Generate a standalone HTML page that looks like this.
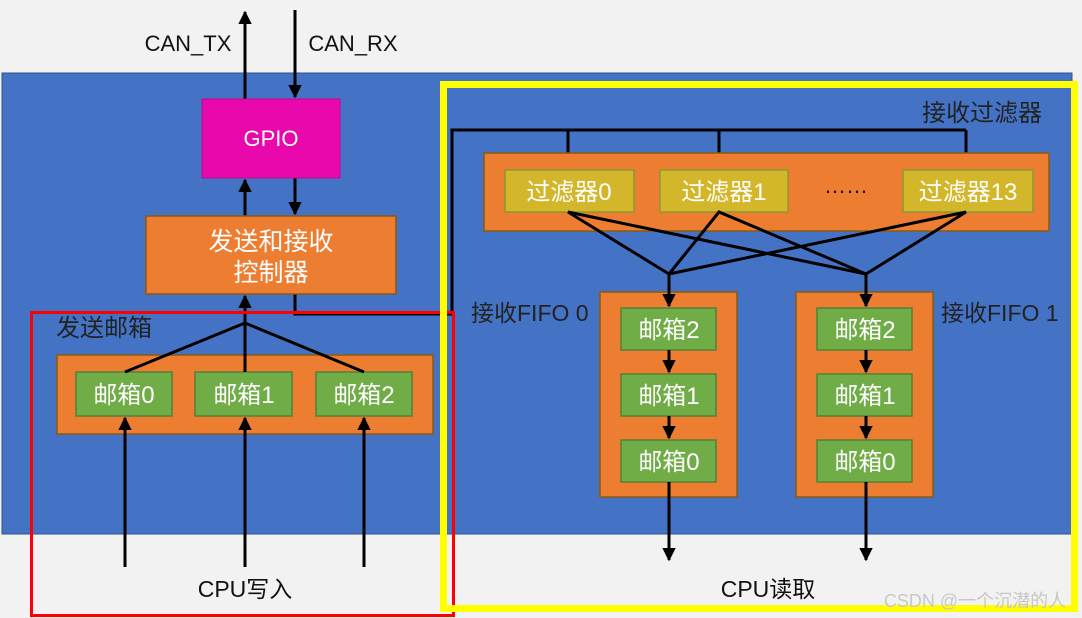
<!DOCTYPE html>
<html><head><meta charset="utf-8"><style>
html,body{margin:0;padding:0;background:#f2f2f2;}
svg{display:block;font-family:"Liberation Sans","Noto Sans CJK SC",sans-serif;}
</style></head><body>
<svg width="1082" height="618" viewBox="0 0 1082 618" xmlns="http://www.w3.org/2000/svg">
<defs>
<marker id="a" viewBox="0 0 10 10" refX="9" refY="5" markerWidth="4.5" markerHeight="4.5" orient="auto"><path d="M0,0 L10,5 L0,10 z" fill="#000"/></marker>
</defs>
<rect x="0" y="0" width="1082" height="618" fill="#f2f2f2"/>
<rect x="2" y="73" width="1070" height="461" fill="#4472c4" stroke="#2f528f" stroke-width="1"/>

<g stroke="#000" stroke-width="3" fill="none">
<line x1="245" y1="99" x2="245" y2="12" marker-end="url(#a)"/>
<line x1="295" y1="10" x2="295" y2="97" marker-end="url(#a)"/>
<line x1="245" y1="216" x2="245" y2="180" marker-end="url(#a)"/>
<line x1="295" y1="178" x2="295" y2="214" marker-end="url(#a)"/>
<line x1="245" y1="323" x2="245" y2="296" marker-end="url(#a)"/>
<polyline points="295,294 295,314 452,314 452,130 966,130"/>
<line x1="568" y1="130" x2="568" y2="168" marker-end="url(#a)"/>
<line x1="719" y1="130" x2="719" y2="168" marker-end="url(#a)"/>
<line x1="966" y1="130" x2="966" y2="168" marker-end="url(#a)"/>
</g>

<text x="188" y="51" font-size="22" text-anchor="middle" fill="#111">CAN_TX</text>
<text x="353" y="51" font-size="22" text-anchor="middle" fill="#111">CAN_RX</text>

<rect x="202" y="99" width="138" height="79" fill="#e908ab" stroke="#c0088f"/>
<text x="271" y="146" font-size="22" text-anchor="middle" fill="#fff">GPIO</text>

<rect x="146" y="216" width="250" height="78" fill="#ed7d31" stroke="#8a5a10" stroke-width="1.5"/>
<text x="271" y="250" font-size="25" text-anchor="middle" fill="#fff">发送和接收</text>
<text x="271" y="281" font-size="25" text-anchor="middle" fill="#fff">控制器</text>

<text x="56" y="336" font-size="24" fill="#222">发送邮箱</text>
<rect x="57" y="355" width="376" height="79" fill="#ed7d31" stroke="#8a5a10" stroke-width="1.5"/>
<g fill="#70ad47" stroke="#548235" stroke-width="1.5">
<rect x="76" y="372" width="96" height="44"/>
<rect x="195" y="372" width="97" height="44"/>
<rect x="316" y="372" width="96" height="44"/>
</g>
<g font-size="24" fill="#fff" text-anchor="middle">
<text x="124" y="403">邮箱0</text>
<text x="244" y="403">邮箱1</text>
<text x="364" y="403">邮箱2</text>
</g>
<g stroke="#000" stroke-width="3" fill="none">
<polyline points="125,372 245,323 364,372"/>
<line x1="245" y1="323" x2="245" y2="372"/>
<line x1="125" y1="567" x2="125" y2="418" marker-end="url(#a)"/>
<line x1="245" y1="567" x2="245" y2="418" marker-end="url(#a)"/>
<line x1="364" y1="567" x2="364" y2="418" marker-end="url(#a)"/>
</g>
<text x="245" y="597" font-size="23" text-anchor="middle" fill="#111">CPU写入</text>

<text x="982" y="121" font-size="24" text-anchor="middle" fill="#222">接收过滤器</text>
<rect x="484" y="153" width="565" height="78" fill="#ed7d31" stroke="#8a5a10" stroke-width="1.5"/>
<g fill="#d4b62a" stroke="#8a9a30" stroke-width="1.5">
<rect x="505" y="170" width="129" height="42"/>
<rect x="660" y="170" width="128" height="42"/>
<rect x="903" y="170" width="130" height="42"/>
</g>
<g font-size="24" fill="#fff" text-anchor="middle">
<text x="569" y="200">过滤器0</text>
<text x="724" y="200">过滤器1</text>
<text x="968" y="200">过滤器13</text>
</g>
<text x="846" y="193" font-size="22" text-anchor="middle" fill="#111">……</text>

<g stroke="#000" stroke-width="3" fill="none">
<polyline points="669,274 568,212 866,274"/>
<polyline points="669,274 719,212 866,274"/>
<polyline points="669,274 966,212 866,274"/>
</g>

<text x="471" y="321" font-size="23" fill="#222">接收FIFO 0</text>
<text x="941" y="321" font-size="23" fill="#222">接收FIFO 1</text>
<rect x="600" y="292" width="137" height="205" fill="#ed7d31" stroke="#8a5a10" stroke-width="1.5"/>
<rect x="796" y="292" width="137" height="205" fill="#ed7d31" stroke="#8a5a10" stroke-width="1.5"/>
<g fill="#70ad47" stroke="#548235" stroke-width="1.5">
<rect x="621" y="308" width="95" height="42"/>
<rect x="621" y="374" width="95" height="42"/>
<rect x="621" y="440" width="95" height="42"/>
<rect x="817" y="308" width="95" height="42"/>
<rect x="817" y="374" width="95" height="42"/>
<rect x="817" y="440" width="95" height="42"/>
</g>
<g font-size="24" fill="#fff" text-anchor="middle">
<text x="669" y="338">邮箱2</text>
<text x="669" y="404">邮箱1</text>
<text x="669" y="470">邮箱0</text>
<text x="865" y="338">邮箱2</text>
<text x="865" y="404">邮箱1</text>
<text x="865" y="470">邮箱0</text>
</g>
<g stroke="#000" stroke-width="3" fill="none">
<line x1="669" y1="274" x2="669" y2="306" marker-end="url(#a)"/>
<line x1="866" y1="274" x2="866" y2="306" marker-end="url(#a)"/>
<line x1="669" y1="350" x2="669" y2="372" marker-end="url(#a)"/>
<line x1="866" y1="350" x2="866" y2="372" marker-end="url(#a)"/>
<line x1="669" y1="416" x2="669" y2="438" marker-end="url(#a)"/>
<line x1="866" y1="416" x2="866" y2="438" marker-end="url(#a)"/>
<line x1="669" y1="482" x2="669" y2="560" marker-end="url(#a)"/>
<line x1="866" y1="482" x2="866" y2="560" marker-end="url(#a)"/>
</g>
<text x="768" y="597" font-size="23" text-anchor="middle" fill="#111">CPU读取</text>

<rect x="31.5" y="312.5" width="422" height="303" fill="none" stroke="#ff0000" stroke-width="3"/>
<rect x="443.5" y="84.5" width="631" height="524" fill="none" stroke="#ffff00" stroke-width="7"/>
<text x="975" y="607" font-size="18" text-anchor="middle" fill="#c8c8c8">CSDN @一个沉潜的人</text>
</svg>
</body></html>
